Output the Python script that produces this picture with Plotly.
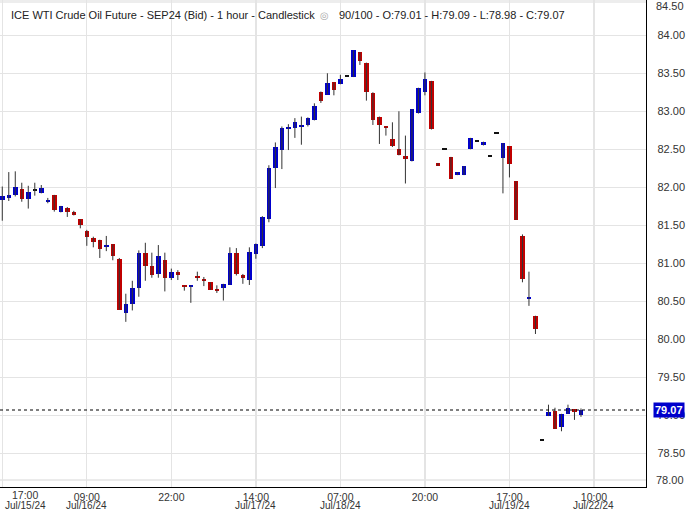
import plotly.graph_objects as go

# ---- data (hourly candles, index 0..89) ----
opens = [81.83, 81.86, 81.90, 81.98, 81.85, 81.97, 81.92, 81.81, 81.90, 81.67,
         81.73, 81.67, 81.58, 81.43, 81.33, 81.31, 81.22, 81.25, 81.06, 80.35,
         80.47, 80.68, 81.14, 80.96, 80.86, 81.04, 80.81, 80.89, 80.71, 80.70,
         80.82, 80.785, 80.75, 80.65, 80.67, 80.72, 81.14, 80.84, 80.78, 81.12,
         81.23, 81.58, 82.26, 82.49, 82.78, 82.78, 82.80, 82.82, 82.88, 83.26,
         83.22, 83.38, 83.355, 83.47, 83.45, 83.78, 83.63, 83.24, 82.92, 82.80,
         82.64, 82.51, 82.41, 82.34, 82.98, 83.26, 83.40, 82.32, 82.50, 82.40,
         82.16, 82.16, 82.50, 82.61, 82.55, 82.41, 82.72, 82.39, 82.54, 82.08,
         81.36, 80.535, 80.31, 78.68, 78.99, 79.06, 78.84, 79.02, 79.08, 79.01]
highs = [82.01, 82.20, 82.21, 82.06, 82.02, 82.06, 82.03, 81.86, 81.90, 81.755,
         81.74, 81.69, 81.58, 81.44, 81.35, 81.31, 81.36, 81.25, 81.07, 80.60,
         80.77, 81.17, 81.27, 81.14, 81.24, 81.14, 80.93, 80.91, 80.71, 80.71,
         80.89, 80.82, 80.75, 80.71, 80.73, 81.21, 81.20, 80.86, 81.21, 81.26,
         81.62, 82.29, 82.59, 82.80, 82.83, 82.91, 82.93, 82.92, 83.105, 83.26,
         83.50, 83.38, 83.48, 83.47, 83.80, 83.78, 83.64, 83.25, 82.93, 82.80,
         82.855, 83.00, 82.68, 83.03, 83.31, 83.51, 83.40, 82.32, 82.50, 82.40,
         82.20, 82.28, 82.65, 82.61, 82.60, 82.41, 82.72, 82.58, 82.54, 82.08,
         81.38, 80.89, 80.31, 78.68, 79.14, 79.10, 79.02, 79.14, 79.08, 79.09]
lows = [81.56, 81.82, 81.88, 81.81, 81.72, 81.89, 81.92, 81.79, 81.68, 81.67,
        81.61, 81.63, 81.46, 81.23, 81.21, 81.07, 81.16, 81.04, 80.39, 80.23,
        80.38, 80.56, 80.77, 80.81, 80.81, 80.63, 80.78, 80.78, 80.64, 80.48,
        80.77, 80.70, 80.65, 80.61, 80.51, 80.72, 80.84, 80.73, 80.715, 81.06,
        81.20, 81.54, 81.99, 82.24, 82.49, 82.65, 82.56, 82.80, 82.88, 83.11,
        83.22, 83.21, 83.355, 83.47, 83.45, 83.61, 83.14, 82.82, 82.57, 82.68,
        82.53, 82.42, 82.05, 82.34, 82.97, 83.21, 82.76, 82.28, 82.50, 82.11,
        82.16, 82.16, 82.50, 82.61, 82.55, 82.41, 82.72, 81.92, 82.13, 81.57,
        80.75, 80.44, 80.07, 78.68, 78.99, 78.82, 78.79, 79.02, 78.94, 78.98]
closes = [81.89, 81.90, 82.00, 81.84, 81.94, 81.97, 81.99, 81.83, 81.70, 81.75,
          81.68, 81.64, 81.50, 81.35, 81.28, 81.19, 81.225, 81.09, 80.39, 80.47,
          80.68, 81.14, 80.96, 80.84, 81.10, 80.81, 80.89, 80.84, 80.69, 80.71,
          80.81, 80.77, 80.65, 80.64, 80.73, 81.14, 80.86, 80.81, 81.145, 81.26,
          81.61, 82.26, 82.53, 82.78, 82.79, 82.855, 82.81, 82.91, 83.07, 83.13,
          83.37, 83.28, 83.42, 83.47, 83.80, 83.66, 83.25, 82.88, 82.82, 82.78,
          82.54, 82.42, 82.37, 83.03, 83.30, 83.42, 82.77, 82.28, 82.50, 82.11,
          82.20, 82.28, 82.65, 82.61, 82.60, 82.41, 82.72, 82.58, 82.31, 81.57,
          80.80, 80.555, 80.14, 78.68, 79.04, 78.82, 79.02, 79.09, 79.04, 79.07]

tick_idx = [0, 13, 26, 39, 52, 65, 78, 91]
tick_time = ["17:00", "09:00", "22:00", "14:00", "07:00", "20:00", "17:00", "10:00"]
tick_date = ["Jul/15/24", "Jul/16/24", "", "Jul/17/24", "Jul/18/24", "", "Jul/19/24", "Jul/22/24"]
y_ticks = [78.5, 79.0, 79.5, 80.0, 80.5, 81.0, 81.5, 82.0, 82.5, 83.0, 83.5, 84.0]

BLUE = "#0000CC"
RED = "#C00000"
WICK = "#333333"
GRID = "#E4E4E4"
TXT = "#333333"
FONT = "Liberation Sans, Arial, sans-serif"

n = len(closes)
idx = list(range(n))

# wicks
wx, wy = [], []
for i in idx:
    wx += [i, i, None]
    wy += [lows[i], highs[i], None]

MIN_H = 0.026
groups = {"up": ([], [], []), "down": ([], [], []), "flat": ([], [], [])}
for i in idx:
    o, c = opens[i], closes[i]
    key = "up" if c > o else ("down" if c < o else "flat")
    lo, hi = min(o, c), max(o, c)
    if hi - lo < MIN_H:
        mid = (hi + lo) / 2
        lo, hi = mid - MIN_H / 2, mid + MIN_H / 2
    groups[key][0].append(i)
    groups[key][1].append(lo)
    groups[key][2].append(hi - lo)

fig = go.Figure()
fig.add_trace(go.Scatter(x=wx, y=wy, mode="lines", line=dict(color=WICK, width=1),
                         hoverinfo="skip", showlegend=False))
for key, col in (("up", BLUE), ("down", RED), ("flat", "#111111")):
    xs, bases, hs = groups[key]
    fig.add_trace(go.Bar(x=xs, y=hs, base=bases, width=0.7,
                         marker=dict(color=col, line=dict(width=0)),
                         hoverinfo="skip", showlegend=False))

fig.update_layout(
    width=689, height=512,
    margin=dict(l=0, r=43, t=0, b=25),
    paper_bgcolor="white", plot_bgcolor="white",
    barmode="overlay", bargap=0,
    showlegend=False,
    font=dict(family=FONT, size=11, color=TXT),
)
fig.update_xaxes(
    range=[-0.35, 99.0],
    tickvals=tick_idx, ticktext=[""] + tick_time[1:],
    showgrid=True, gridcolor=GRID, gridwidth=1.3,
    showline=True, linecolor="black", linewidth=1.3,
    ticks="", zeroline=False,
    tickfont=dict(family=FONT, size=10.5, color=TXT),
)
fig.update_yaxes(
    range=[78.057, 84.464], side="right",
    tickvals=y_ticks, ticktext=[f"{v:.2f}" for v in y_ticks],
    showgrid=True, gridcolor=GRID, gridwidth=1.3,
    showline=True, linecolor="black", linewidth=1.3,
    ticks="", zeroline=False, ticklabelstandoff=8,
    tickfont=dict(family=FONT, size=11, color=TXT),
)

# gridline at the clamped 78.00 label
fig.add_shape(type="line", xref="paper", yref="paper", x0=0, x1=1,
              y0=7 / 487, y1=7 / 487, line=dict(color=GRID, width=1.3), layer="below")
# faint top band
fig.add_shape(type="rect", xref="paper", yref="paper", x0=0, x1=1,
              y0=1 - 3 / 487, y1=1, fillcolor="#EDEDED", line=dict(width=0), layer="below")

DFONT = dict(family=FONT, size=10, color=TXT)
# dates under time labels
for t, d in zip(tick_idx[1:], tick_date[1:]):
    if d:
        fig.add_annotation(x=t, y=0, xref="x", yref="paper", text=d, showarrow=False,
                           xanchor="center", yshift=-18, yanchor="middle", borderpad=0,
                           font=DFONT)
# first (edge) label
fig.add_annotation(x=25 / 646, y=0, xref="paper", yref="paper",
                   text=tick_time[0], showarrow=False, xanchor="center",
                   yshift=-8, yanchor="middle",
                   borderpad=0, font=dict(family=FONT, size=10.5, color=TXT))
fig.add_annotation(x=25 / 646, y=0, xref="paper", yref="paper",
                   text=tick_date[0], showarrow=False, xanchor="center",
                   yshift=-18, yanchor="middle", borderpad=0, font=DFONT)

# clamped edge price labels
fig.add_annotation(x=1, y=1, xref="paper", yref="paper", text="84.50", showarrow=False,
                   xanchor="left", xshift=8, yanchor="middle", yshift=-6,
                   font=dict(family=FONT, size=11, color=TXT))
fig.add_annotation(x=1, y=0, xref="paper", yref="paper", text="78.00", showarrow=False,
                   xanchor="left", xshift=8, yanchor="middle", yshift=7,
                   font=dict(family=FONT, size=11, color=TXT))

# last price line + label
last = closes[-1]
fig.add_shape(type="line", xref="paper", yref="y", x0=0, x1=1, y0=last, y1=last,
              line=dict(color="black", width=1, dash="dot"))
fig.add_annotation(x=1, y=last, xref="paper", yref="y", text=f"<b>{last:.2f}</b>",
                   showarrow=False, xanchor="left", xshift=7, yanchor="middle",
                   bgcolor=BLUE, borderpad=1,
                   font=dict(family=FONT, size=11, color="white"))

# title
fig.add_annotation(x=0, y=1, xref="paper", yref="paper", xanchor="left", yanchor="middle",
                   xshift=9, yshift=-15, showarrow=False,
                   text="ICE WTI Crude Oil Future - SEP24 (Bid) - 1 hour - Candlestick",
                   font=dict(family=FONT, size=11, color="#222222"))
fig.add_annotation(x=0, y=1, xref="paper", yref="paper", xanchor="left", yanchor="middle",
                   xshift=318, yshift=-15, showarrow=False, text="◎",
                   font=dict(family="DejaVu Sans", size=10, color="#AAAAAA"))
fig.add_annotation(x=0, y=1, xref="paper", yref="paper", xanchor="left", yanchor="middle",
                   xshift=337, yshift=-15, showarrow=False,
                   text=(f"{n}/100 - O:{opens[-1]:.2f} - H:{highs[-1]:.2f} - "
                         f"L:{lows[-1]:.2f} - C:{closes[-1]:.2f}"),
                   font=dict(family=FONT, size=11, color="#222222"))

fig.write_html("out.html", config={"displayModeBar": False, "staticPlot": True},
               post_script="document.body.style.margin='0';document.body.style.overflow='hidden';")
